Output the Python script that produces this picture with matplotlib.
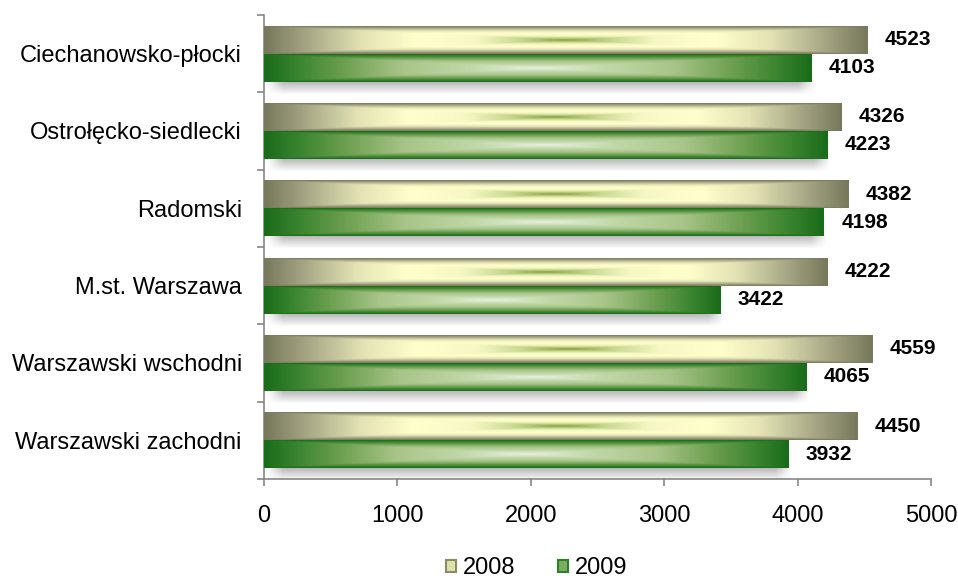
import numpy as np
import matplotlib
matplotlib.use("Agg")
import matplotlib.pyplot as plt
from matplotlib.colors import LinearSegmentedColormap
from matplotlib.patches import Patch

regions = ["Ciechanowsko-płocki", "Ostrołęcko-siedlecki", "Radomski",
           "M.st. Warszawa", "Warszawski wschodni", "Warszawski zachodni"]
years = ["2008", "2009"]
vals_2008 = [4523, 4326, 4382, 4222, 4559, 4450]
vals_2009 = [4103, 4223, 4198, 3422, 4065, 3932]

plt.rcParams['font.family'] = ['Liberation Sans', 'DejaVu Sans']

cmap_2008 = LinearSegmentedColormap.from_list("g2008", [
    (0.0, "#88a040"), (0.15, "#c8d890"), (0.3, "#f6f8c4"), (0.5, "#ffffcc"),
    (0.68, "#e2e2b4"), (0.88, "#a0a080"), (1.0, "#78785c")])
cmap_2009 = LinearSegmentedColormap.from_list("g2009", [
    (0.0, "#e8f0e0"), (0.25, "#c0d8a8"), (0.5, "#a8c488"), (0.72, "#6a9e4e"),
    (0.88, "#3a8430"), (1.0, "#1a6c1a")])

# rectangular "from centre" gradient
nx, ny = 300, 60
u = np.linspace(-1, 1, nx)
v = np.linspace(-1, 1, ny)
U, V = np.meshgrid(u, v)
rect_d = np.maximum(np.abs(U), np.abs(V))

fig = plt.figure(figsize=(9.58, 5.81), dpi=100)
ax = fig.add_axes([0.2756, 0.1756, 0.6962, 0.7986])

bar_h = 0.362
px_x = 5000 / 667.0   # data units per pixel (x)
px_y = 6 / 464.0      # data units per pixel (y)


def shadow(x1, yc):
    # soft grey shadow under a bar
    blur_x, blur_y = 8 * px_x, 7 * px_y
    off = 6 * px_y
    x0, x1s = 10 * px_x, x1 - 4 * px_x
    ya, yb = yc - bar_h / 2 + off, yc + bar_h / 2 + off
    xs = np.linspace(x0 - blur_x, x1s + blur_x, 200)
    ys = np.linspace(ya - blur_y, yb + blur_y, 40)
    ax_ = np.clip(np.minimum(xs - (x0 - blur_x), (x1s + blur_x) - xs) / (2 * blur_x), 0, 1)
    ay_ = np.clip(np.minimum(ys - (ya - blur_y), (yb + blur_y) - ys) / (2 * blur_y), 0, 1)
    a = np.outer(ay_, ax_) * 0.55
    img = np.zeros((len(ys), len(xs), 4))
    img[..., :3] = 0.45
    img[..., 3] = a
    ax.imshow(img, extent=[xs[0], xs[-1], ys[-1], ys[0]], aspect='auto',
              interpolation='bilinear', zorder=1)


for i in range(len(regions)):
    y08 = i - bar_h / 2
    y09 = i + bar_h / 2
    shadow(vals_2009[i], y09)
    ax.imshow(rect_d, cmap=cmap_2008, vmin=0, vmax=1, aspect='auto',
              extent=[0, vals_2008[i], y08 + bar_h / 2, y08 - bar_h / 2],
              interpolation='bilinear', zorder=3)
    ax.imshow(rect_d, cmap=cmap_2009, vmin=0, vmax=1, aspect='auto',
              extent=[0, vals_2009[i], y09 + bar_h / 2, y09 - bar_h / 2],
              interpolation='bilinear', zorder=3)
    ax.annotate(str(vals_2008[i]), (vals_2008[i], y08), xytext=(12.5, 0),
                textcoords='offset points', ha='left', va='center',
                fontsize=15, fontweight='bold', zorder=4)
    ax.annotate(str(vals_2009[i]), (vals_2009[i], y09), xytext=(12.5, 0),
                textcoords='offset points', ha='left', va='center',
                fontsize=15, fontweight='bold', zorder=4)

ax.set_xlim(0, 5000)
ax.set_ylim(len(regions) - 0.5, -0.5)

ax.set_xticks(range(0, 5001, 1000))
ax.set_yticks(range(len(regions)))
ax.set_yticklabels(regions)
ax.set_yticks(np.arange(-0.5, len(regions), 1), minor=True)

for s in ['top', 'right']:
    ax.spines[s].set_visible(False)
for s in ['left', 'bottom']:
    ax.spines[s].set_color('#868686')
    ax.spines[s].set_linewidth(1.2)

ax.tick_params(axis='y', which='major', length=0, pad=16, labelsize=17)
ax.tick_params(axis='y', which='minor', length=5, width=1.2, color='#868686')
ax.tick_params(axis='x', length=5, width=1.2, color='#868686', pad=14, labelsize=17)

handles = [Patch(facecolor='#dfe2a8', edgecolor='#8c8c66', linewidth=1.5),
           Patch(facecolor='#79b060', edgecolor='#2e7e2e', linewidth=1.5)]
fig.legend(handles, years, loc='center', bbox_to_anchor=(0.56, 0.022),
           ncol=2, frameon=False, fontsize=17, handlelength=0.42,
           handleheight=0.42, handletextpad=0.3, columnspacing=1.8,
           borderpad=0.2)

fig.savefig("out.png", dpi=100)
